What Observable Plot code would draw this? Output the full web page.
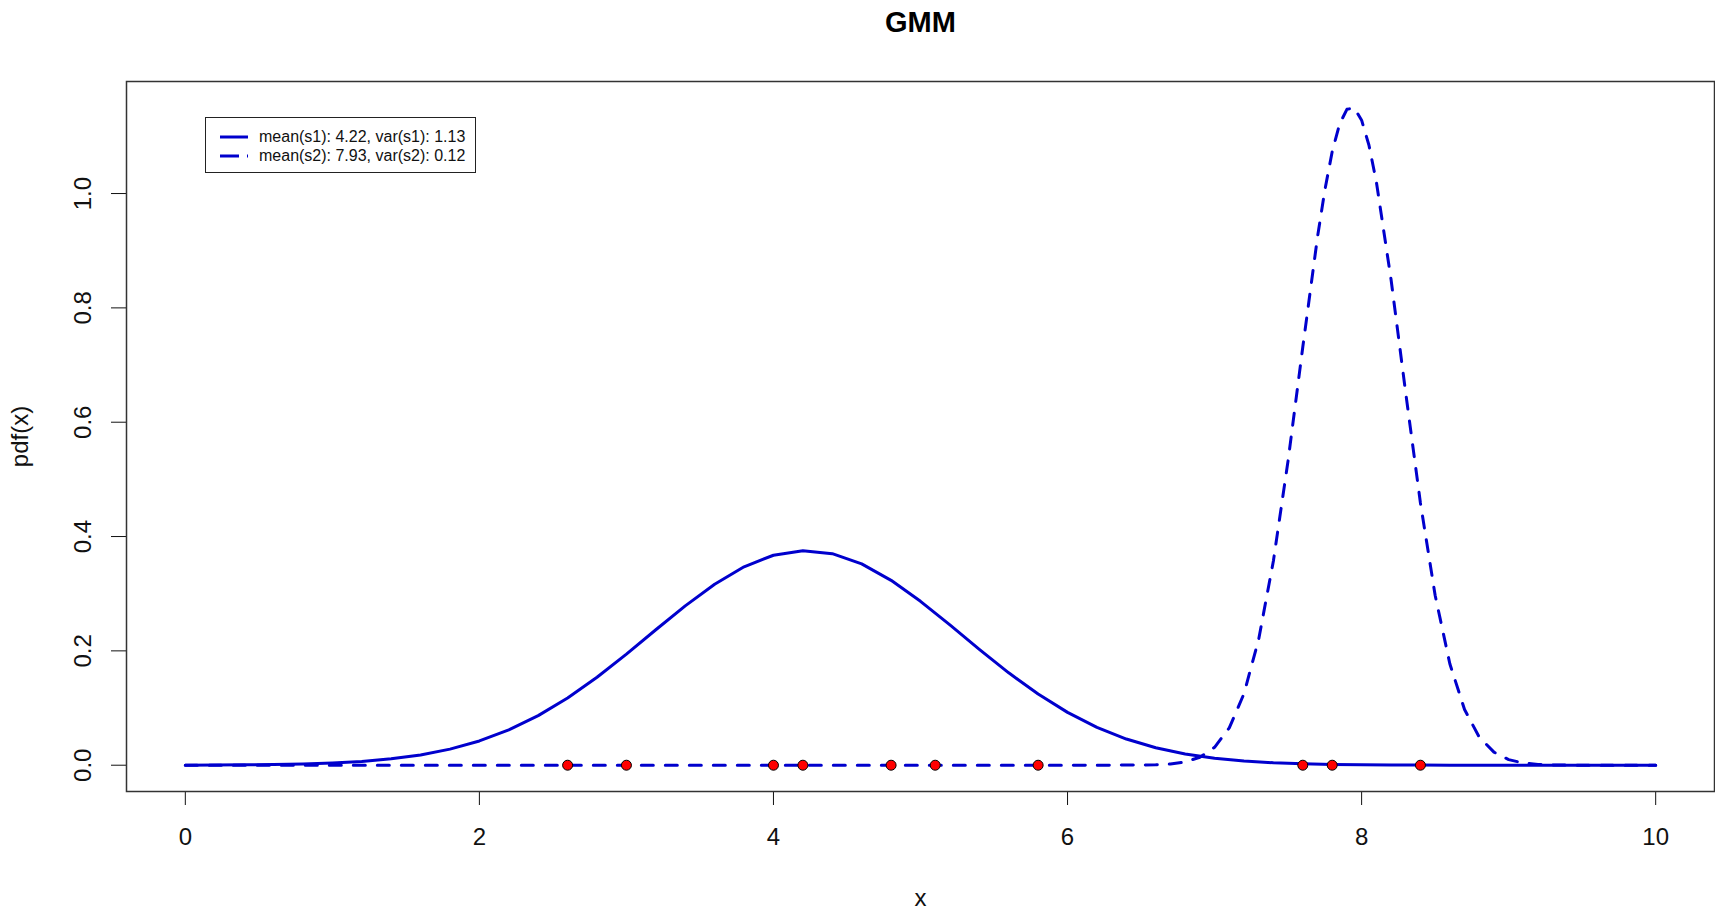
<!DOCTYPE html>
<html>
<head>
<meta charset="utf-8">
<script src="https://cdn.jsdelivr.net/npm/d3@7"></script>
<script src="https://cdn.jsdelivr.net/npm/@observablehq/plot@0.6"></script>
<style>
  body { margin: 0; background: #fff; font-family: "Liberation Sans", Arial, sans-serif; }
  #wrap { position: relative; width: 1715px; height: 909px; overflow: hidden; background: #fff; }
  #title { position: absolute; left: 126px; width: 1589px; top: 0; height: 44px; line-height: 44px;
           text-align: center; font-weight: bold; font-size: 29px; color: #000; }
  #chart { position: absolute; left: 0; top: 50px; }
  #legend { position: absolute; left: 205px; top: 117px; width: 269px; height: 54px;
            border: 1.5px solid #222; background: #fff; font-size: 16px; color: #111; }
  .row { position: absolute; left: 0; height: 18px; width: 100%; }
  .row svg { position: absolute; left: 13px; top: 0; }
  .row span { position: absolute; left: 53px; top: 0; line-height: 18px; white-space: nowrap; }
</style>
</head>
<body>
<div id="wrap">
  <div id="title"></div>
  <div id="chart"></div>
  <div id="legend"></div>
</div>
<script>
// ---- data ----
const titleText = "GMM";
const xLabel = "x";
const yLabel = "pdf(x)";
const xTicks = [0, 2, 4, 6, 8, 10];
const yTicks = [0, 0.2, 0.4, 0.6, 0.8, 1.0];

// component 1 (solid curve)
const s1X = [0, 0.2, 0.4, 0.6, 0.8, 1.0, 1.2, 1.4, 1.6, 1.8, 2.0, 2.2, 2.4, 2.6, 2.8, 3.0, 3.2, 3.4, 3.6, 3.8,
             4.0, 4.2, 4.4, 4.6, 4.8, 5.0, 5.2, 5.4, 5.6, 5.8, 6.0, 6.2, 6.4, 6.6, 6.8, 7.0, 7.2, 7.4, 7.6, 7.8,
             8.0, 8.2, 8.4, 8.6, 8.8, 9.0, 9.2, 9.4, 9.6, 9.8, 10.0];
const s1Y = [0.0001, 0.0003, 0.0006, 0.0011, 0.0021, 0.0038, 0.0066, 0.0111, 0.0180, 0.0281,
             0.0424, 0.0617, 0.0867, 0.1175, 0.1538, 0.1943, 0.2369, 0.2787, 0.3166, 0.3471,
             0.3673, 0.3752, 0.3700, 0.3521, 0.3234, 0.2867, 0.2454, 0.2027, 0.1616, 0.1244,
             0.0924, 0.0662, 0.0458, 0.0306, 0.0197, 0.0123, 0.0074, 0.0043, 0.0024, 0.0013,
             0.0007, 0.0003, 0.0002, 0.0001, 0, 0, 0, 0, 0, 0, 0];

// component 2 (dashed curve)
const s2X = [0, 1, 2, 3, 4, 5, 6, 6.5, 6.6, 6.7, 6.8, 6.9, 7.0, 7.1, 7.2, 7.3, 7.4, 7.5, 7.6, 7.7, 7.75, 7.8,
             7.85, 7.9, 7.95, 8.0, 8.05, 8.1, 8.2, 8.3, 8.4, 8.5, 8.6, 8.7, 8.8, 8.9, 9.0, 9.1, 9.2, 9.3,
             9.4, 9.5, 10];
const s2Y = [0, 0, 0, 0, 0, 0, 0, 0.0002, 0.0007, 0.0021, 0.0056, 0.0139, 0.0313, 0.0653, 0.1251, 0.2203,
             0.3573, 0.5330, 0.7315, 0.9238, 1.0062, 1.0733, 1.1213, 1.1473, 1.1497, 1.1283, 1.0845,
             1.0210, 0.8500, 0.6510, 0.4588, 0.2974, 0.1774, 0.0974, 0.0492, 0.0228, 0.0098, 0.0038,
             0.0014, 0.0005, 0.0001, 0, 0];

// observed samples (red points on the baseline)
const samples = [2.6, 3.0, 4.0, 4.2, 4.8, 5.1, 5.8, 7.6, 7.8, 8.4];

const legendLabels = ["mean(s1): 4.22, var(s1): 1.13", "mean(s2): 7.93, var(s2): 0.12"];

// ---- build ----
const lineColor = "#0000CD";
const s1 = s1X.map((x, i) => ({x, y: s1Y[i]}));
const s2 = s2X.map((x, i) => ({x, y: s2Y[i]}));
const pts = samples.map(x => ({x, y: 0}));

document.getElementById("title").textContent = titleText;

const chart = Plot.plot({
  width: 1715,
  height: 859,
  marginLeft: 126,
  marginRight: 1,
  marginTop: 31,
  marginBottom: 118,
  style: {fontFamily: "Liberation Sans, Arial, sans-serif", fontSize: "24px", color: "#111", background: "#fff"},
  x: {domain: [-0.4, 10.4]},
  y: {domain: [-0.046, 1.196]},
  marks: [
    Plot.axisX({ticks: xTicks, tickSize: 14, tickPadding: 22, tickFormat: d => String(d),
                label: xLabel, labelAnchor: "center", labelArrow: false, labelOffset: 114, fontSize: 24}),
    Plot.axisY({ticks: yTicks, tickSize: 15, tickPadding: 21, tickFormat: d3.format(".1f"), tickRotate: -90,
                label: yLabel, labelAnchor: "center", labelArrow: false, labelOffset: 116, fontSize: 24}),
    Plot.line(s2, {x: "x", y: "y", stroke: lineColor, strokeWidth: 3, strokeDasharray: "12,12"}),
    Plot.line(s1, {x: "x", y: "y", stroke: lineColor, strokeWidth: 3}),
    Plot.dot(pts, {x: "x", y: "y", r: 5, fill: "#FF0000", stroke: "#000", strokeWidth: 1}),
    Plot.frame({stroke: "#333", strokeWidth: 1.5})
  ]
});
document.getElementById("chart").appendChild(chart);

// legend
const legend = document.getElementById("legend");
legendLabels.forEach((lab, i) => {
  const row = document.createElement("div");
  row.className = "row";
  row.style.top = (10 + i * 19) + "px";
  const svgNS = "http://www.w3.org/2000/svg";
  const svg = document.createElementNS(svgNS, "svg");
  svg.setAttribute("width", 32);
  svg.setAttribute("height", 18);
  const ln = document.createElementNS(svgNS, "line");
  ln.setAttribute("x1", 1); ln.setAttribute("x2", 29);
  ln.setAttribute("y1", 9); ln.setAttribute("y2", 9);
  ln.setAttribute("stroke", lineColor);
  ln.setAttribute("stroke-width", 3);
  if (i === 1) { ln.setAttribute("stroke-dasharray", "19,8"); }
  svg.appendChild(ln);
  row.appendChild(svg);
  const sp = document.createElement("span");
  sp.textContent = lab;
  row.appendChild(sp);
  legend.appendChild(row);
});
</script>
</body>
</html>
